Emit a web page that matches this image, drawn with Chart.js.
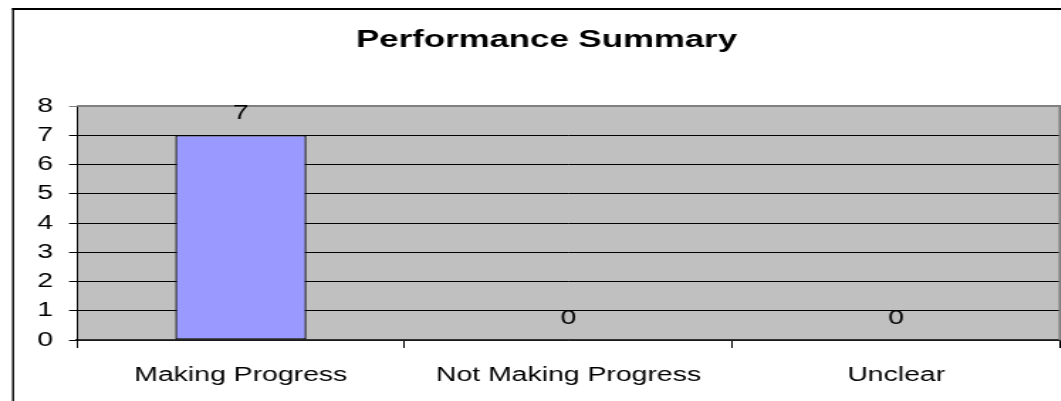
<!DOCTYPE html>
<html>
<head>
<meta charset="utf-8">
<script src="https://cdn.jsdelivr.net/npm/chart.js@4"></script>
<style>
  body { margin: 0; background: #fff; overflow: hidden; }
  #wrap { transform: scaleX(1.42); transform-origin: 0 0; width: 747px; height: 401px; }
</style>
</head>
<body>
<div id="wrap"><canvas id="chart" width="747" height="401"></canvas></div>
<script>
const categories = ["Making Progress", "Not Making Progress", "Unclear"];
const values = [7, 0, 0];
const yMax = 8;
const yStep = 1;
const chartTitle = "Performance Summary";

const FONT = '"Liberation Sans", Arial, sans-serif';

// grey plot background + outer chart frame
const backdrop = {
  id: "backdrop",
  beforeDraw(chart) {
    const { ctx, chartArea: a } = chart;
    ctx.save();
    ctx.fillStyle = "#000";
    ctx.fillRect(8.5, 8, chart.width, 2);
    ctx.fillRect(8.5, 8, 1.4, chart.height);
    ctx.fillStyle = "#C0C0C0";
    ctx.fillRect(a.left, a.top, a.right - a.left, a.bottom - a.top);
    ctx.restore();
  },
  afterDatasetsDraw(chart) {
    const { ctx, chartArea: a } = chart;
    ctx.save();
    ctx.strokeStyle = "#808080";
    ctx.lineWidth = 2;
    ctx.beginPath();
    ctx.moveTo(a.left, a.top);
    ctx.lineTo(a.right, a.top);
    ctx.lineTo(a.right, a.bottom);
    ctx.stroke();
    ctx.restore();
  }
};

// value labels above each bar
const valueLabels = {
  id: "valueLabels",
  afterDatasetsDraw(chart) {
    const { ctx } = chart;
    const meta = chart.getDatasetMeta(0);
    ctx.save();
    ctx.font = "20px " + FONT;
    ctx.fillStyle = "#000";
    ctx.textAlign = "center";
    ctx.textBaseline = "alphabetic";
    meta.data.forEach((bar, i) => {
      ctx.fillText(String(values[i]), bar.x, bar.y - 16);
    });
    ctx.restore();
  }
};

new Chart(document.getElementById("chart"), {
  type: "bar",
  data: {
    labels: categories,
    datasets: [{
      data: values,
      backgroundColor: "#9999FF",
      borderColor: "#000",
      borderWidth: 1.3,
      borderSkipped: false,
      categoryPercentage: 1,
      barPercentage: 0.4
    }]
  },
  options: {
    responsive: false,
    animation: false,
    devicePixelRatio: 1,
    layout: { padding: { left: 23.3, right: 0.5, top: 0, bottom: 0 } },
    plugins: {
      legend: { display: false },
      tooltip: { enabled: false },
      title: {
        display: true,
        text: chartTitle,
        color: "#000",
        font: { family: FONT, size: 24.5, weight: "bold", lineHeight: 1.2 },
        padding: { top: 26, bottom: 50.6 }
      }
    },
    scales: {
      x: {
        offset: true,
        grid: {
          offset: true,
          drawOnChartArea: false,
          drawTicks: true,
          tickLength: 8,
          color: "#000",
          tickColor: "#000"
        },
        border: { color: "#333", width: 1.5 },
        ticks: {
          color: "#000",
          padding: 15,
          maxRotation: 0,
          font: { family: FONT, size: 20 }
        },
        afterFit(scale) { scale.height = 61; }
      },
      y: {
        min: 0,
        max: yMax,
        grid: {
          color: (c) => (c.tick && c.tick.value === yMax ? "rgba(0,0,0,0)" : "#000"),
          tickColor: (c) => (c.tick && c.tick.value === yMax ? "#808080" : "#000"),
          tickLength: 5.6,
          lineWidth: 1
        },
        border: { color: "#000", width: 1 },
        ticks: {
          stepSize: yStep,
          color: "#000",
          padding: 11.3,
          font: { family: FONT, size: 20 }
        },
        afterFit(scale) { scale.width = 30.9; }
      }
    }
  },
  plugins: [backdrop, valueLabels]
});
</script>
</body>
</html>
